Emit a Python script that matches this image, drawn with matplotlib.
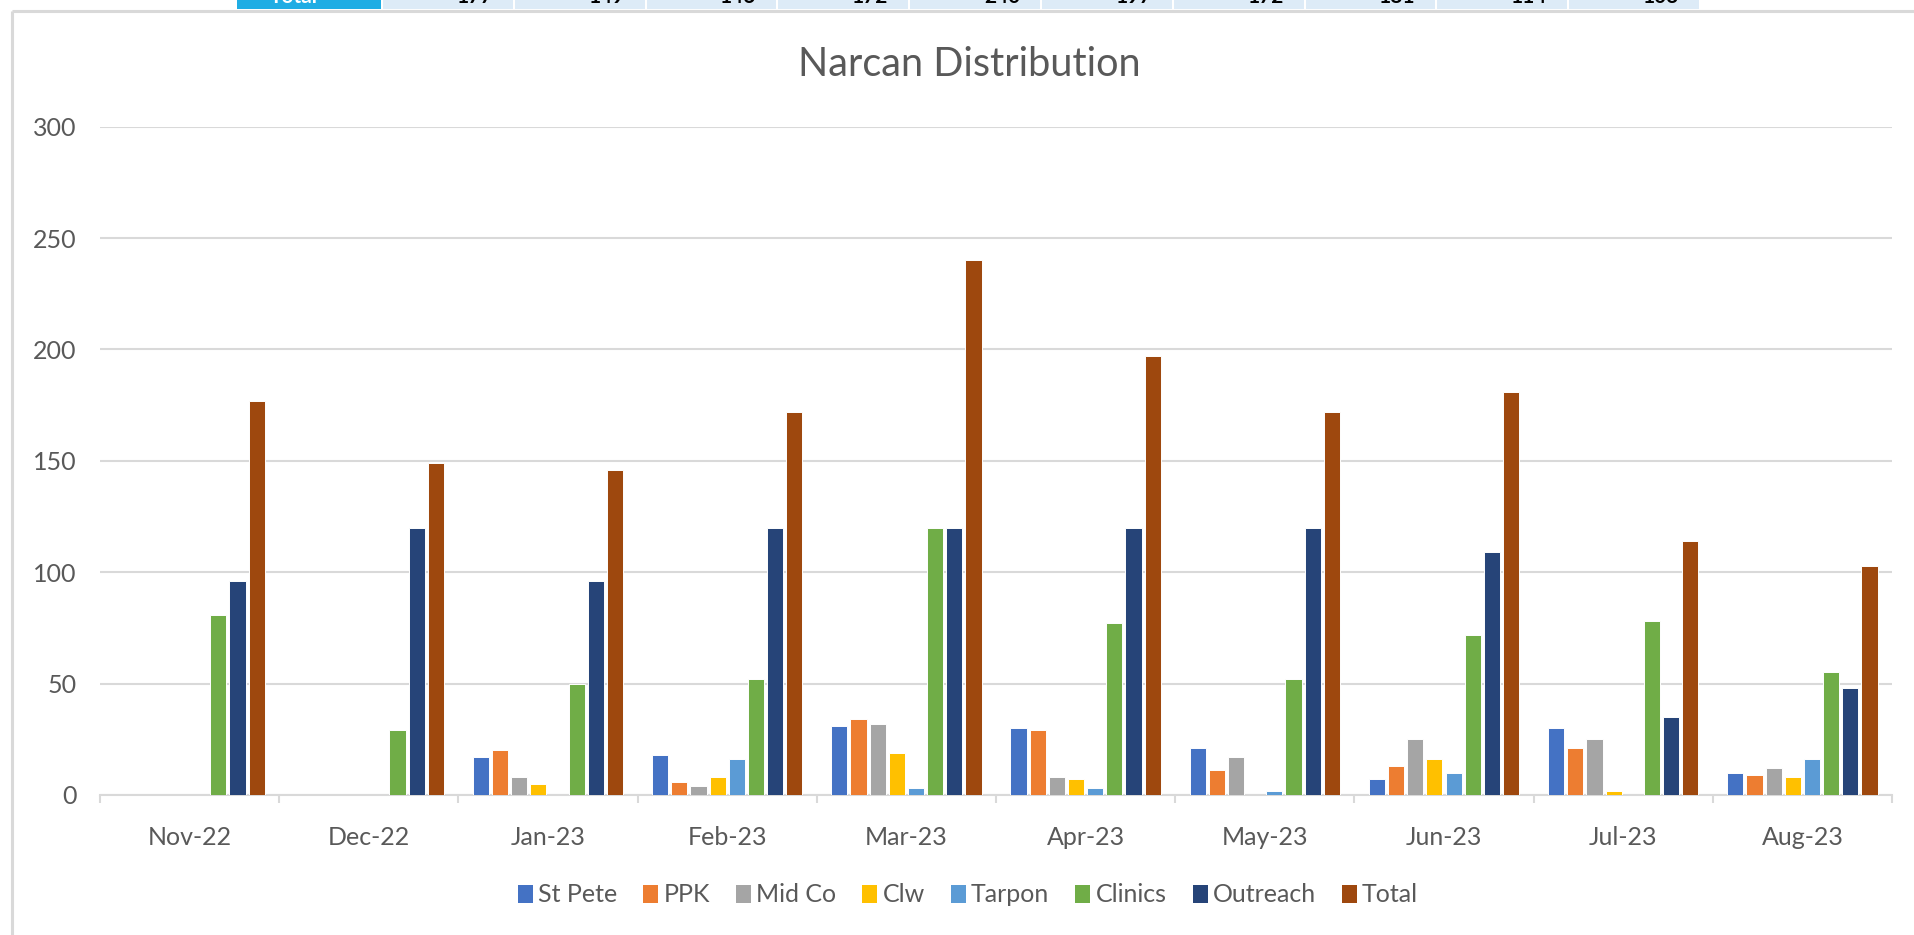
import matplotlib
matplotlib.use("Agg")
import matplotlib.pyplot as plt
import numpy as np
from matplotlib.patches import Patch, Rectangle

plt.rcParams["font.family"] = ["Lato", "DejaVu Sans"]

months = ["Nov-22", "Dec-22", "Jan-23", "Feb-23", "Mar-23",
          "Apr-23", "May-23", "Jun-23", "Jul-23", "Aug-23"]
series_names = ["St Pete", "PPK", "Mid Co", "Clw", "Tarpon",
                "Clinics", "Outreach", "Total"]

st_pete = [0, 0, 17, 18, 31, 30, 21, 7, 30, 10]
ppk = [0, 0, 20, 6, 34, 29, 11, 13, 21, 9]
mid_co = [0, 0, 8, 4, 32, 8, 17, 25, 25, 12]
clw = [0, 0, 5, 8, 19, 7, 0, 16, 2, 8]
tarpon = [0, 0, 0, 16, 3, 3, 2, 10, 0, 16]
clinics = [81, 29, 50, 52, 120, 77, 52, 72, 78, 55]
outreach = [96, 120, 96, 120, 120, 120, 120, 109, 35, 48]
total = [177, 149, 146, 172, 240, 197, 172, 181, 114, 103]

colors = ["#4472C4", "#ED7D31", "#A5A5A5", "#FFC000",
          "#5B9BD5", "#70AD47", "#264478", "#9E480E"]

GRID = "#D9D9D9"
TXT = "#595959"
W, H = 1914, 935

fig = plt.figure(figsize=(W / 100, H / 100), dpi=100)

# ---- decoration layer (chart border + cropped table row at the top) ---- #
deco = fig.add_axes([0, 0, 1, 1], zorder=0)
deco.set_xlim(0, W)
deco.set_ylim(H, 0)
deco.axis("off")
deco.plot([12, 12], [11, H], color=GRID, lw=2.2, solid_capstyle="butt")
deco.plot([12, W], [11, 11], color=GRID, lw=2.2, solid_capstyle="butt")
deco.add_patch(Rectangle((233, 0), 1471, 13, facecolor="white", edgecolor="none"))

strip = fig.add_axes([0, 1 - 8.5 / H, 1, 8.5 / H], zorder=3)
strip.set_xlim(0, W)
strip.set_ylim(0, 1)
strip.axis("off")
strip.add_patch(Rectangle((237, 0), 144, 1, facecolor="#1FADE4", edgecolor="none"))
strip.text(270, 1.35, "Total", color="white", fontsize=15, fontweight="bold",
           ha="left", va="center", clip_on=True)
cell_w = 131.8
for i, v in enumerate(total):
    x0 = 383 + i * cell_w
    strip.add_patch(Rectangle((x0, 0), cell_w - 2, 1, facecolor="#DDEBF7",
                              edgecolor="none"))
    strip.text(x0 + cell_w - 22, 1.35, str(v), color="black", fontsize=15,
               fontweight="bold", ha="right", va="center", clip_on=True)

# ---- main chart ---- #
left, right, top, bottom = 100, 1892, 126.6, 795
ax = fig.add_axes([left / W, (H - bottom) / H, (right - left) / W, (bottom - top) / H],
                  zorder=2)

data = [st_pete, ppk, mid_co, clw, tarpon, clinics, outreach, total]
x = np.arange(len(months))
slot = 0.107
for i, (name, vals, c) in enumerate(zip(series_names, data, colors)):
    ax.bar(x + (i - 3.5) * slot, vals, width=0.09, color=c, edgecolor="white",
           linewidth=0.7, label=name, zorder=3)

ax.set_xlim(-0.5, len(months) - 0.5)
ax.set_ylim(0, 300)
ax.set_yticks(np.arange(0, 301, 50))
ax.yaxis.grid(True, color=GRID, lw=1.5, zorder=0)
ax.set_axisbelow(True)
for s in ["top", "right", "left"]:
    ax.spines[s].set_visible(False)
ax.spines["bottom"].set_color(GRID)
ax.spines["bottom"].set_linewidth(1.5)

ax.set_xticks(x)
ax.set_xticklabels(months)
ax.set_xticks(np.arange(-0.5, len(months)), minor=True)
ax.tick_params(axis="x", which="major", length=0, pad=22, labelsize=18,
               labelcolor=TXT)
ax.tick_params(axis="x", which="minor", length=6, width=1.5, color=GRID)
ax.tick_params(axis="y", length=0, pad=17, labelsize=18, labelcolor=TXT)

fig.text(969 / W, (H - 65) / H, "Narcan Distribution", ha="center", va="center",
         fontsize=28.5, color=TXT)

handles = [Patch(facecolor=c, edgecolor="none") for c in colors]
fig.legend(handles, series_names, loc="center", bbox_to_anchor=(968 / W, (H - 895) / H),
           ncol=8, frameon=False, fontsize=18, labelcolor=TXT,
           handlelength=0.6, handleheight=0.75, handletextpad=0.2,
           columnspacing=1.05)

fig.savefig("out.png", dpi=100, facecolor="white")
